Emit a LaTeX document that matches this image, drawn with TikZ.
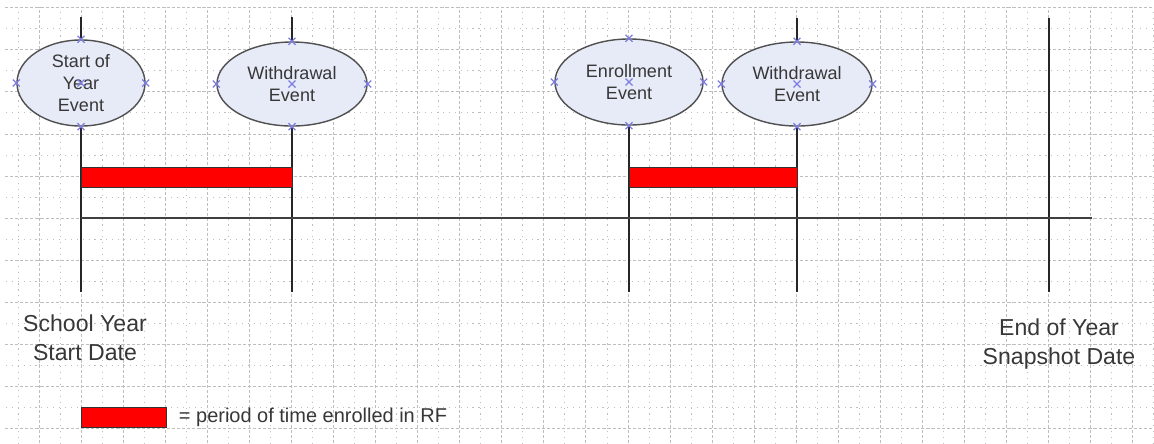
\documentclass[tikz,border=0pt]{standalone}
\usepackage{fontspec}
\setmainfont{Liberation Sans}
\usetikzlibrary{shapes.geometric}

\definecolor{evfill}{RGB}{231,235,247}
\definecolor{evline}{RGB}{80,80,80}
\definecolor{cpblue}{RGB}{125,125,225}
\definecolor{txtgrey}{RGB}{55,55,55}
\definecolor{gridgrey}{RGB}{190,190,190}

\tikzset{
  event/.style={ellipse, draw=evline, line width=1pt, fill=evfill, inner sep=0pt,
    text=txtgrey, align=center, font=\fontsize{12.8}{15.6}\selectfont},
  tline/.style={line width=1.3pt, black!85},
  axisline/.style={line width=1.6pt, black!75},
  enrbar/.style={fill=red, draw=black!80, line width=0.7pt},
  datelabel/.style={text=txtgrey, align=center, font=\fontsize{16.4}{20.6}\selectfont},
  legendtext/.style={text=txtgrey, font=\fontsize{14.2}{17}\selectfont},
  cpx/.style={cpblue, line width=0.9pt},
  majgrid/.style={gridgrey, line width=0.5pt, dash pattern=on 2.2pt off 1.4pt},
  mingrid/.style={gridgrey, line width=0.5pt, dash pattern=on 0.8pt off 3.4pt}
}

\begin{document}
\begin{tikzpicture}[x=0.025cm, y=-0.025cm]
\useasboundingbox (0,0) rectangle (1154,443);

%%%%%%%%%%%% Grid
  \begin{scope}
    \clip (5,7) rectangle (1154,443);
    \foreach \k in {-2,...,25} {
      \draw[majgrid] ({81+42.07*\k}, 0) -- +(0, 443);
      \draw[mingrid] ({102.035+42.07*\k}, 0) -- +(0, 443);
    }
    \foreach \k in {-6,...,5} {
      \draw[majgrid] (0, {218+42.07*\k}) -- +(1154, 0);
      \draw[mingrid] (0, {239.035+42.07*\k}) -- +(1154, 0);
    }
  \end{scope}

%%%%%%%%%%%% Events
\node[event, minimum width=3.2cm, minimum height=2.15cm] (startev) at (81, 83) {Start of\\Year\\Event};
\node[event, minimum width=3.75cm, minimum height=2.1cm] (wdrawA) at (292, 84) {Withdrawal\\Event};
\node[event, minimum width=3.7cm, minimum height=2.15cm] (enrollev) at (629, 82) {Enrollment\\Event};
\node[event, minimum width=3.75cm, minimum height=2.1cm] (wdrawB) at (797, 84) {Withdrawal\\Event};

\coordinate (sytop) at (81, 17);
\coordinate (sybot) at (81, 292);
\coordinate (watop) at (292, 17);
\coordinate (wabot) at (292, 292);
\coordinate (enbot) at (629, 292);
\coordinate (wbtop) at (797, 18);
\coordinate (wbbot) at (797, 292);
\coordinate (eytop) at (1049, 18);
\coordinate (eybot) at (1049, 292);
\coordinate (axisend) at (1092, 218);

%%%%%%%%%%%% Timeline
\draw[tline] (sytop) -- (startev.north);
\draw[tline] (startev.south) -- (sybot);
\draw[tline] (watop) -- (wdrawA.north);
\draw[tline] (wdrawA.south) -- (wabot);
\draw[tline] (enrollev.south) -- (enbot);
\draw[tline] (wbtop) -- (wdrawB.north);
\draw[tline] (wdrawB.south) -- (wbbot);
\draw[tline] (eytop) -- (eybot);
\draw[axisline] (81, 218) -- (axisend);

\draw[enrbar] (81, 167) rectangle (292, 187);
\draw[enrbar] (629, 167) rectangle (797, 187);

% connection points
\foreach \n in {startev, wdrawA, enrollev, wdrawB}
  \foreach \a in {north, south, east, west, center}
    \draw[cpx] (\n.\a) +(-3.5,-3.5) -- +(3.5,3.5) +(-3.5,3.5) -- +(3.5,-3.5);

%%%%%%%%%%%% Labels and legend
\node[datelabel] (sylabel) at (85, 338) {School Year\\Start Date};
\node[datelabel] (eylabel) at (1059, 344) {End of Year\\Snapshot Date};

\draw[enrbar] (81, 407) rectangle (166, 427);
\node[legendtext, anchor=west] (legtxt) at (174, 417) {= period of time enrolled in RF};
\end{tikzpicture}
\end{document}
